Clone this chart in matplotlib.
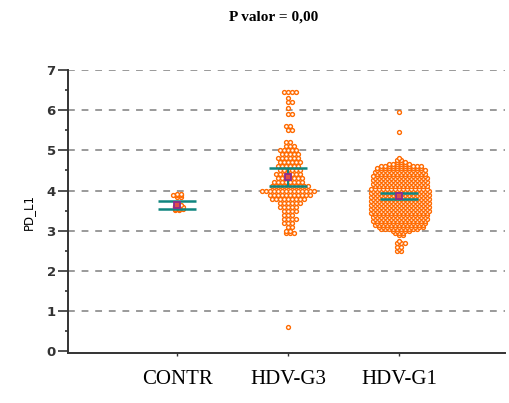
import numpy as np
import matplotlib
matplotlib.use('Agg')
import matplotlib.pyplot as plt
from matplotlib.ticker import MultipleLocator

groups = ['CONTR', 'HDV-G3', 'HDV-G1']

# values (value, how many points at that level)
contr_vals = [3.52, 3.55, 3.58, 3.6, 3.62, 3.65, 3.7, 3.85, 3.88, 3.92]
contr_cnt = [2, 3, 2, 3, 2, 2, 1, 2, 3, 2]

g3_vals = [0.6, 2.95, 3.0, 3.1, 3.2, 3.3, 3.4, 3.5, 3.6, 3.7, 3.8, 3.9, 4.0,
           4.1, 4.2, 4.3, 4.4, 4.5, 4.6, 4.7, 4.8, 4.9, 5.0, 5.1, 5.2, 5.5,
           5.6, 5.9, 6.05, 6.2, 6.3, 6.45]
g3_cnt = [1, 3, 2, 2, 3, 4, 3, 4, 5, 6, 9, 11, 14, 10, 8, 7, 7, 6, 6, 6, 6,
          5, 5, 3, 2, 2, 2, 2, 1, 2, 1, 4]

g1_vals = [2.5, 2.55, 2.6, 2.7, 2.75, 2.9, 2.95, 3.0, 3.05, 3.1, 3.15, 3.2,
           3.25, 3.3, 3.35, 3.4, 3.45, 3.5, 3.55, 3.6, 3.65, 3.7, 3.75, 3.8,
           3.85, 3.9, 3.95, 4.0, 4.05, 4.1, 4.15, 4.2, 4.25, 4.3, 4.35, 4.4,
           4.45, 4.5, 4.55, 4.6, 4.65, 4.7, 4.75, 4.8, 5.45, 5.95]
g1_cnt = [2, 1, 2, 3, 1, 2, 3, 5, 10, 12, 13, 13, 14, 14, 14, 14, 15, 15, 15,
          15, 15, 15, 15, 15, 15, 15, 15, 15, 15, 14, 14, 14, 14, 14, 14, 13,
          13, 13, 12, 11, 6, 3, 2, 1, 1, 1]

# mean and interval (teal bars)
centers = [3.64, 4.33, 3.87]
lows = [3.53, 4.10, 3.78]
highs = [3.75, 4.55, 3.95]

title = 'P valor = 0,00'
ylabel = 'PD_L1'


def swarm(pos, vals, cnt, dx=0.036):
    xs, ys = [], []
    for i, (v, n) in enumerate(zip(vals, cnt)):
        shift = dx / 2 if (i % 2 and n > 1) else 0
        off = (np.arange(n) - (n - 1) / 2) * dx + shift
        xs.extend(pos + off)
        ys.extend([v] * n)
    return np.array(xs), np.array(ys)


fig = plt.figure(figsize=(5.09, 4.03), dpi=100)
ax = fig.add_axes([0.134, 0.124, 0.858, 0.702])

data = [(contr_vals, contr_cnt), (g3_vals, g3_cnt), (g1_vals, g1_cnt)]
orange = '#ff6a00'
teal = '#10857f'
for k, (vals, cnt) in enumerate(data):
    x, y = swarm(k + 1, vals, cnt)
    ax.plot(x, y, 'o', ms=2.8, mfc='white', mec=orange, mew=1.0, zorder=3)
    c = k + 1
    ax.hlines([lows[k], highs[k]], c - 0.17, c + 0.17, color=teal, lw=1.8, zorder=4)
    ax.vlines(c, lows[k], highs[k], color=teal, lw=1.5, zorder=4)
    ax.plot(c, centers[k], 's', ms=5, mfc='#e0504a', mec='#8e2c8e', mew=1.3, zorder=5)

for yv in range(1, 8):
    ax.axhline(yv, color='#9a9a9a', lw=1.4, ls=(0, (3.5, 3.5)), zorder=1)

ax.set_xlim(0.02, 3.95)
ax.set_ylim(-0.05, 7)
ax.set_xticks([1, 2, 3])
ax.set_xticklabels(groups, family='Liberation Serif', fontsize=15)
ax.yaxis.set_major_locator(MultipleLocator(1))
ax.yaxis.set_minor_locator(MultipleLocator(0.5))
ax.tick_params(axis='y', which='major', length=7, width=1.2, pad=2,
               labelsize=9.5, colors='#333333')
ax.tick_params(axis='y', which='minor', length=2.5, width=1.2, colors='#333333')
ax.tick_params(axis='x', length=2.5, width=1, pad=10, colors='#333333')
for lab in ax.get_xticklabels():
    lab.set_color('black')
for lab in ax.get_yticklabels():
    lab.set_fontweight('bold')
for s in ['top', 'right']:
    ax.spines[s].set_visible(False)
for s in ['left', 'bottom']:
    ax.spines[s].set_linewidth(1.4)
    ax.spines[s].set_color('#333333')

ax.set_ylabel(ylabel, fontsize=8.5, labelpad=8)
fig.text(0.538, 0.958, title, ha='center', va='center', family='Liberation Serif',
         fontweight='bold', fontsize=11)

fig.savefig('out.png', dpi=100)
